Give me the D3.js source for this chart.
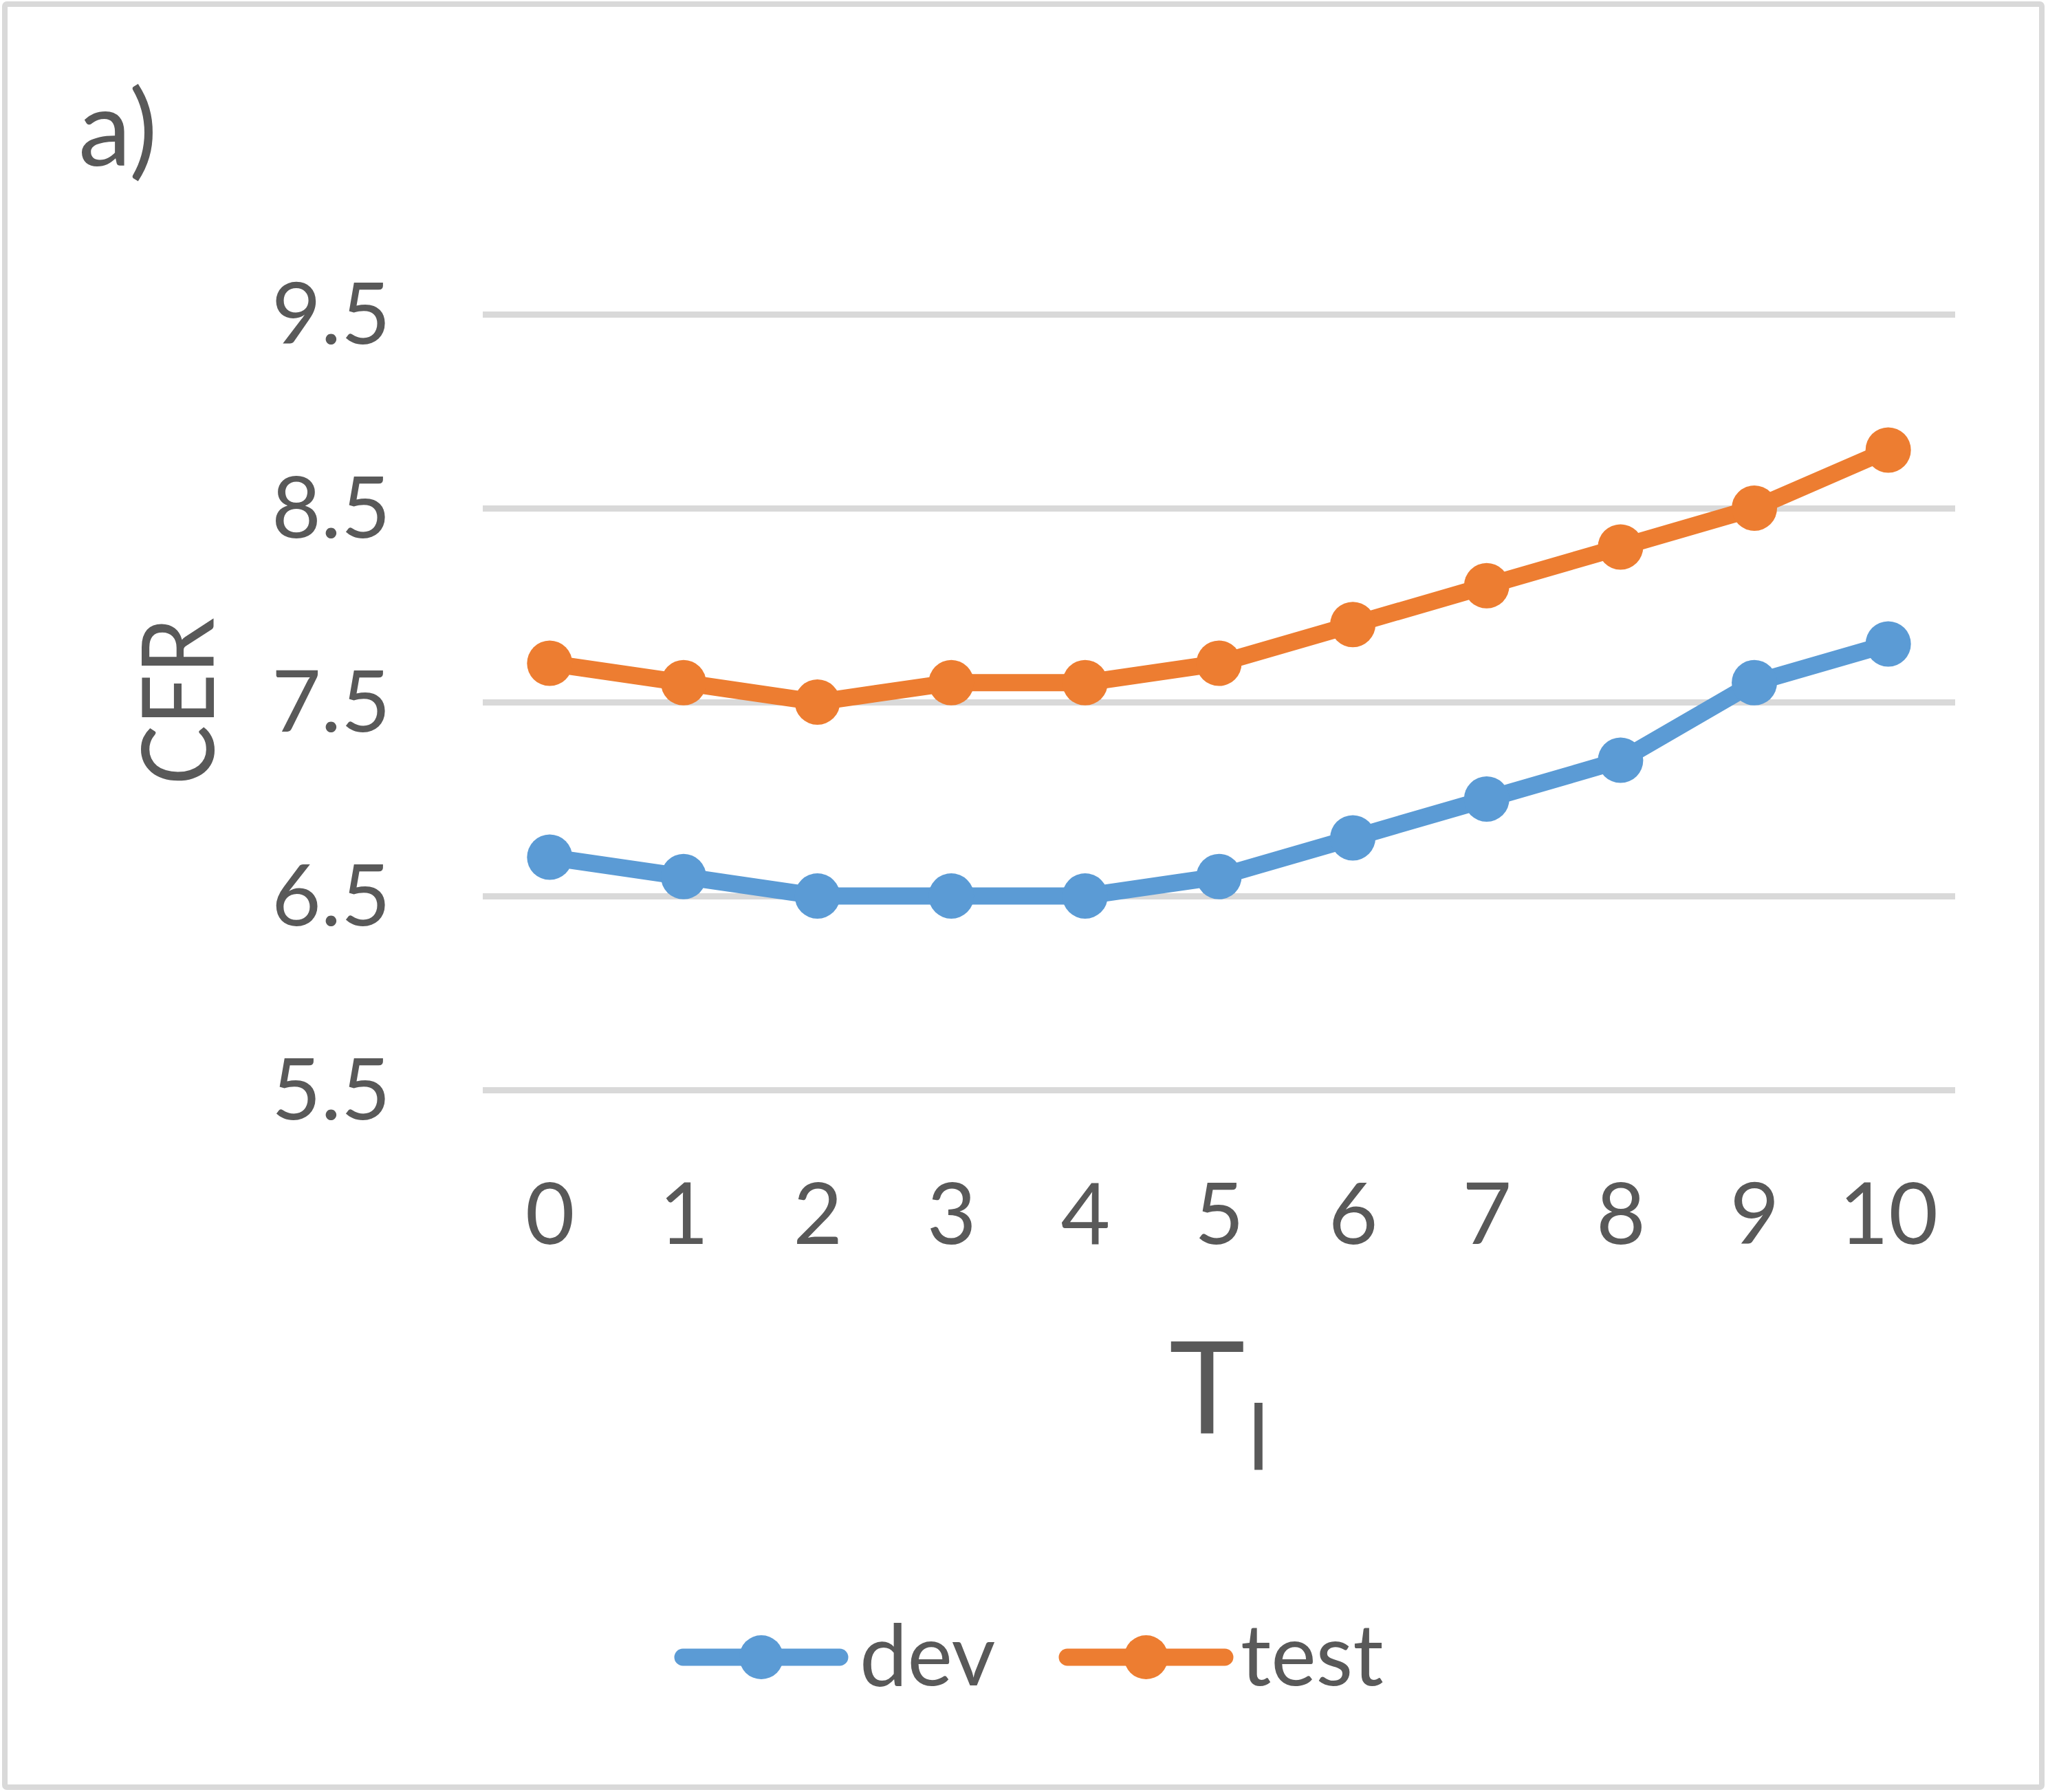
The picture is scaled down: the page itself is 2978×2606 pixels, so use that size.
<!DOCTYPE html>
<html>
<head>
<meta charset="utf-8">
<script src="https://cdn.jsdelivr.net/npm/d3@7"></script>
<style>
    html, body { margin: 0; padding: 0; background: #fff; }
    text { font-family: Lato, "Open Sans", sans-serif; fill: #595959; }
</style>
</head>
<body>
<div id="chart"></div>
<script>
// data
const categories = ['0', '1', '2', '3', '4', '5', '6', '7', '8', '9', '10'];
const devValues = [6.7, 6.6, 6.5, 6.5, 6.5, 6.6, 6.8, 7.0, 7.2, 7.6, 7.8];
const testValues = [7.7, 7.6, 7.5, 7.6, 7.6, 7.7, 7.9, 8.1, 8.3, 8.5, 8.8];
const yTicks = [5.5, 6.5, 7.5, 8.5, 9.5];
const seriesNames = ['dev', 'test'];
const seriesColors = ['#5B9BD5', '#ED7D31'];

const width = 2978;
const height = 2606;
const plot = { left: 702, right: 2843, top: 457, bottom: 1585 };

const svg = d3.select('#chart')
    .append('svg')
    .attr('width', width)
    .attr('height', height);

svg.append('rect')
    .attr('width', width)
    .attr('height', height)
    .attr('fill', '#fff');

// outer frame
svg.append('rect')
    .attr('x', 7)
    .attr('y', 6)
    .attr('width', 2962)
    .attr('height', 2593)
    .attr('rx', 3)
    .attr('fill', 'none')
    .attr('stroke', '#d9d9d9')
    .attr('stroke-width', 8);

const x = d3.scalePoint()
    .domain(categories)
    .range([plot.left, plot.right])
    .padding(0.5);

const y = d3.scaleLinear()
    .domain([5.5, 9.5])
    .range([plot.bottom, plot.top]);

// y axis = gridlines + labels
const yAxis = svg.append('g')
    .attr('transform', `translate(${plot.left},0)`)
    .call(d3.axisLeft(y)
        .tickValues(yTicks)
        .tickFormat(d3.format('.1f'))
        .tickSizeInner(-(plot.right - plot.left))
        .tickSizeOuter(0)
        .tickPadding(134));
yAxis.select('.domain').remove();
yAxis.selectAll('.tick line')
    .attr('stroke', '#d9d9d9')
    .attr('stroke-width', 9);
yAxis.selectAll('.tick text')
    .attr('dy', '0.34em')
    .style('font-size', '124px')
    .style('fill', '#595959');

// x axis labels
const xAxis = svg.append('g')
    .attr('transform', `translate(0,${plot.bottom})`)
    .call(d3.axisBottom(x).tickSize(0).tickPadding(136));
xAxis.select('.domain').remove();
xAxis.selectAll('.tick text')
    .attr('dy', '0.71em')
    .style('font-size', '124px')
    .style('fill', '#595959');

// series
const series = seriesNames.map((name, i) => ({
    name: name,
    color: seriesColors[i],
    values: (i === 0 ? devValues : testValues).map((v, j) => ({ cat: categories[j], value: v }))
}));

const line = d3.line()
    .x(d => x(d.cat))
    .y(d => y(d.value));

const seriesG = svg.append('g')
    .selectAll('g')
    .data(series)
    .enter().append('g');

seriesG.append('path')
    .attr('d', d => line(d.values))
    .attr('fill', 'none')
    .attr('stroke', d => d.color)
    .attr('stroke-width', 25)
    .attr('stroke-linejoin', 'round');

seriesG.selectAll('circle')
    .data(d => d.values.map(v => Object.assign({ color: d.color }, v)))
    .enter().append('circle')
    .attr('cx', d => x(d.cat))
    .attr('cy', d => y(d.value))
    .attr('r', 33)
    .attr('fill', d => d.color);

// axis titles
svg.append('text')
    .attr('transform', 'translate(311,1020) rotate(-90)')
    .attr('text-anchor', 'middle')
    .attr('textLength', 243)
    .attr('lengthAdjust', 'spacingAndGlyphs')
    .style('font-size', '146px')
    .text('CER');

const xTitle = svg.append('text')
    .attr('x', 1700)
    .attr('y', 2084)
    .style('font-size', '187px');
xTitle.append('tspan').text('T');
xTitle.append('tspan')
    .attr('dx', 4)
    .attr('dy', 53)
    .style('font-size', '131px')
    .text('l');

// panel label
svg.append('text')
    .attr('x', 114)
    .attr('y', 241)
    .style('font-size', '154px')
    .text('a)');

// legend
const legendItems = [
    { x0: 993, x1: 1221, tx: 1250 },
    { x0: 1552, x1: 1781, tx: 1804 }
];
const legendY = 2410;
const legend = svg.append('g')
    .selectAll('g')
    .data(series)
    .enter().append('g');

legend.append('line')
    .attr('x1', (d, i) => legendItems[i].x0)
    .attr('x2', (d, i) => legendItems[i].x1)
    .attr('y1', legendY)
    .attr('y2', legendY)
    .attr('stroke', d => d.color)
    .attr('stroke-width', 25)
    .attr('stroke-linecap', 'round');

legend.append('circle')
    .attr('cx', (d, i) => (legendItems[i].x0 + legendItems[i].x1) / 2)
    .attr('cy', legendY)
    .attr('r', 32)
    .attr('fill', d => d.color);

legend.append('text')
    .attr('x', (d, i) => legendItems[i].tx)
    .attr('y', legendY + 41)
    .style('font-size', '124px')
    .text(d => d.name);
</script>
</body>
</html>
